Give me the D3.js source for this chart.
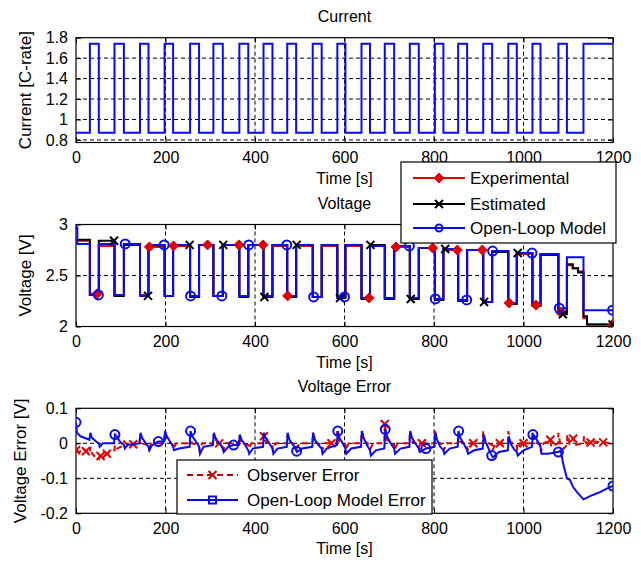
<!DOCTYPE html>
<html>
<head>
<meta charset="utf-8">
<script src="https://cdn.jsdelivr.net/npm/d3@7"></script>
<style>
  body { margin: 0; background: #fff; }
  svg text { font-family: "Liberation Sans", Arial, sans-serif; fill: #000; }
</style>
</head>
<body>
<div id="chart"></div>
<script>
// ---- data ----
const timeTicks = [0, 200, 400, 600, 800, 1000, 1200];
const currentTicks = [0.8, 1, 1.2, 1.4, 1.6, 1.8];
const voltageTicks = [2, 2.5, 3];
const errorTicks = [-0.2, -0.1, 0, 0.1];

// pulse edges [s] of the current profile and the C-rate held from each edge
const edgeT = [0, 31, 51, 86, 107, 143, 162, 198, 217, 255, 275, 307, 328, 365, 385, 419, 439, 472, 492,
  529, 549, 584, 602, 638, 657, 690, 711, 746, 766, 802, 821, 854, 874, 910, 930, 966, 985, 1020, 1038,
  1078, 1097, 1134, 1200];
const currentC = [0.87, 1.74, 0.87, 1.74, 0.87, 1.74, 0.87, 1.74, 0.87, 1.74, 0.87, 1.74, 0.87, 1.74, 0.87,
  1.74, 0.87, 1.74, 0.87, 1.74, 0.87, 1.74, 0.87, 1.74, 0.87, 1.74, 0.87, 1.74, 0.87, 1.74, 0.87, 1.74,
  0.87, 1.74, 0.87, 1.74, 0.87, 1.74, 0.87, 1.74, 0.87, 1.74, 1.74];

// voltage steps [s] and levels [V]
const voltT = [0, 3, 31, 51, 86, 107, 143, 162, 198, 217, 255, 275, 307, 328, 365, 385, 419, 439, 472, 492,
  529, 549, 584, 602, 638, 657, 690, 711, 746, 766, 802, 821, 854, 874, 910, 930, 966, 985, 1020, 1038,
  1078, 1097, 1110, 1122, 1134, 1142, 1200];
const experimentalV = [2.84, 2.84, 2.32, 2.79, 2.31, 2.80, 2.31, 2.78, 2.30, 2.79, 2.30, 2.80, 2.30, 2.80,
  2.30, 2.80, 2.30, 2.79, 2.30, 2.79, 2.29, 2.79, 2.29, 2.79, 2.28, 2.79, 2.28, 2.78, 2.28, 2.77, 2.27,
  2.75, 2.26, 2.75, 2.24, 2.74, 2.23, 2.71, 2.21, 2.71, 2.14, 2.60, 2.57, 2.54, 2.08, 2.02, 2.01];
const estimatedV = [2.85, 2.85, 2.31, 2.84, 2.30, 2.80, 2.30, 2.80, 2.30, 2.80, 2.29, 2.80, 2.30, 2.80,
  2.29, 2.80, 2.29, 2.80, 2.29, 2.80, 2.29, 2.80, 2.28, 2.80, 2.27, 2.80, 2.27, 2.79, 2.27, 2.77, 2.26,
  2.76, 2.25, 2.75, 2.24, 2.73, 2.22, 2.72, 2.20, 2.70, 2.12, 2.61, 2.57, 2.53, 2.10, 2.02, 2.01];
const modelV = [2.97, 2.81, 2.31, 2.81, 2.31, 2.81, 2.30, 2.80, 2.30, 2.80, 2.30, 2.80, 2.30, 2.80, 2.30,
  2.80, 2.30, 2.80, 2.30, 2.80, 2.29, 2.80, 2.29, 2.80, 2.28, 2.79, 2.28, 2.79, 2.28, 2.77, 2.27, 2.76,
  2.26, 2.75, 2.24, 2.74, 2.23, 2.72, 2.21, 2.71, 2.18, 2.68, 2.68, 2.68, 2.16, 2.16, 2.15];

// times [s] where the voltage markers sit
const experimentalMarks = [47, 164, 218, 294, 364, 418, 473, 655, 715, 797, 852, 908, 968, 1028, 1083, 1199];
const estimatedMarks = [85, 161, 254, 329, 421, 493, 590, 658, 748, 825, 912, 987, 1088, 1199];
const modelMarks = [50, 110, 197, 256, 326, 386, 471, 531, 600, 745, 803, 873, 931, 1019, 1080, 1199];

// voltage errors [s, V]
const observerError = [
  [0, -0.02], [8, -0.025], [16, -0.015], [24, -0.025], [31, -0.03], [32, -0.01], [36, -0.03], [44, -0.04],
  [51, -0.045], [53, -0.035], [60, -0.04], [69, -0.03], [78, -0.025], [86, -0.02], [87, -0.005], [92, -0.015],
  [100, -0.01], [107, -0.005], [108, 0.005], [115, -0.005], [142, 0], [143, 0.015], [147, 0], [162, -0.005],
  [163, -0.015], [168, 0], [197, 0], [198, 0.03], [202, 0.01], [217, -0.005], [218, -0.015], [224, 0],
  [254, 0], [255, 0.02], [259, 0], [275, -0.005], [276, -0.02], [282, 0], [306, 0], [307, 0.025], [311, 0.005],
  [328, -0.005], [329, -0.02], [335, 0], [364, 0], [365, 0.02], [369, 0], [385, -0.005], [386, -0.015],
  [392, 0], [418, 0], [419, 0.025], [423, 0.005], [439, -0.005], [440, -0.02], [446, 0], [471, 0],
  [472, 0.025], [476, 0.005], [492, -0.005], [493, -0.015], [499, 0], [528, 0], [529, 0.03], [533, 0.005],
  [549, -0.005], [550, -0.02], [556, 0], [583, 0], [584, 0.035], [588, 0.005], [602, -0.005], [603, -0.02],
  [609, 0], [637, 0], [638, 0.035], [642, 0.01], [657, -0.005], [658, -0.015], [664, 0], [689, 0],
  [690, 0.055], [694, 0.01], [711, -0.005], [712, -0.02], [718, 0], [745, 0], [746, 0.035], [750, 0.005],
  [766, -0.005], [767, -0.02], [773, 0], [801, 0], [802, 0.04], [806, 0.005], [821, -0.005], [822, -0.02],
  [828, 0], [853, 0], [854, 0.03], [858, 0.005], [874, -0.005], [875, -0.02], [881, 0], [909, 0],
  [910, 0.035], [914, 0.005], [930, -0.005], [931, -0.02], [937, 0], [965, 0], [966, 0.035], [970, 0.005],
  [985, -0.005], [986, -0.02], [992, 0], [1019, 0], [1020, 0.035], [1024, 0.005], [1038, -0.005],
  [1039, -0.025], [1045, 0], [1060, 0.01], [1062, -0.01], [1077, 0], [1078, 0.03], [1082, 0],
  [1090, -0.015], [1097, -0.005], [1098, 0.025], [1103, 0], [1112, 0.015], [1114, -0.005], [1134, 0],
  [1135, 0.02], [1140, 0], [1160, 0.005], [1200, 0]
];
const openLoopError = [
  [0, 0.06], [2, 0.03], [10, 0.02], [20, 0.015], [30, 0.01], [32, 0.03], [36, 0.015], [45, 0.005], [51, 0],
  [53, -0.01], [60, 0], [85, 0], [87, 0.025], [91, 0.02], [98, 0.005], [107, -0.005], [109, -0.015],
  [115, -0.005], [142, 0], [144, 0.03], [148, 0.015], [156, 0], [162, -0.01], [164, -0.02], [170, -0.005],
  [184, 0.005], [197, 0.005], [199, 0.035], [203, 0.02], [210, 0.005], [217, -0.01], [219, -0.02],
  [230, -0.015], [254, -0.01], [256, 0.035], [260, 0.02], [268, 0.005], [275, -0.01], [277, -0.03],
  [285, -0.01], [306, -0.005], [308, 0.03], [312, 0.015], [320, 0], [328, -0.015], [330, -0.025],
  [340, -0.01], [352, -0.005], [364, -0.005], [366, 0.025], [370, 0.01], [378, -0.005], [385, -0.02],
  [387, -0.03], [395, -0.015], [418, -0.01], [420, 0.03], [424, 0.015], [432, 0], [439, -0.015],
  [441, -0.03], [450, -0.015], [471, -0.01], [473, 0.03], [477, 0.01], [485, -0.005], [492, -0.02],
  [494, -0.025], [505, -0.015], [528, -0.01], [530, 0.03], [534, 0.01], [542, -0.005], [549, -0.015],
  [551, -0.03], [560, -0.015], [583, -0.005], [585, 0.035], [589, 0.015], [596, 0], [602, -0.015],
  [604, -0.03], [615, -0.015], [637, -0.01], [639, 0.035], [643, 0.015], [650, -0.005], [657, -0.02],
  [659, -0.035], [670, -0.02], [689, -0.015], [691, 0.04], [695, 0.02], [703, 0], [711, -0.015],
  [713, -0.03], [725, -0.015], [745, -0.01], [747, 0.035], [751, 0.015], [758, 0], [766, -0.015],
  [768, -0.025], [782, -0.015], [801, -0.01], [803, 0.03], [807, 0.01], [814, -0.01], [821, -0.02],
  [823, -0.03], [835, -0.015], [853, -0.01], [855, 0.035], [859, 0.015], [866, 0], [874, -0.02],
  [876, -0.03], [890, -0.02], [909, -0.015], [911, 0.025], [915, 0.005], [922, -0.015], [929, -0.035],
  [932, -0.04], [945, -0.025], [965, -0.02], [967, 0.02], [971, 0], [978, -0.015], [985, -0.025],
  [987, -0.035], [1000, -0.02], [1019, -0.01], [1021, 0.025], [1025, 0.02], [1032, 0.005], [1038, -0.01],
  [1040, -0.03], [1055, -0.03], [1076, -0.025], [1078, -0.025], [1083, -0.02], [1089, -0.06],
  [1097, -0.1], [1104, -0.105], [1111, -0.125], [1120, -0.14], [1134, -0.16], [1150, -0.15],
  [1170, -0.14], [1185, -0.13], [1200, -0.122]
];
const observerMarks = [0, 22, 55, 69, 128, 320, 420, 571, 690, 773, 888, 947, 1000, 1060, 1111, 1150, 1178];
const openLoopMarks = [0, 87, 184, 256, 352, 493, 585, 691, 782, 855, 929, 1021, 1078, 1200];

// ---- drawing ----
const RED = '#e00000';
const BLUE = '#0a0aee';
const svg = d3.select('#chart').append('svg').attr('width', 641).attr('height', 562);

const diamond = 'M0,-5L5,0L0,5L-5,0Z';
const cross = 'M-4,-4L4,4M-4,4L4,-4';

// Draws a MATLAB-style boxed axes with dashed grid; returns the scales and a clipped layer.
function panel(id, top, bottom, yDomain, yTicks, title, ylabel, ylabelX) {
  const x = d3.scaleLinear().domain([0, 1200]).range([76, 613]);
  const y = d3.scaleLinear().domain(yDomain).range([bottom, top]);
  const g = svg.append('g');

  g.append('clipPath').attr('id', id).append('rect')
    .attr('x', 76).attr('y', top).attr('width', 537).attr('height', bottom - top);

  const grid = g.append('g').attr('stroke', '#000').attr('stroke-width', 1).attr('stroke-dasharray', '4,3');
  grid.selectAll('.vx').data(timeTicks.slice(1, -1)).join('line')
    .attr('x1', x).attr('x2', x).attr('y1', top).attr('y2', bottom);
  grid.selectAll('.hy').data(yTicks.filter(d => y(d) > top + 1 && y(d) < bottom - 1)).join('line')
    .attr('x1', 76).attr('x2', 613).attr('y1', y).attr('y2', y);

  const fmt = d => String(d);
  g.append('g').attr('transform', `translate(0,${bottom})`)
    .call(d3.axisBottom(x).tickValues(timeTicks).tickSize(-5).tickPadding(9).tickFormat(fmt))
    .call(a => a.select('.domain').remove())
    .call(a => a.selectAll('text').attr('font-size', 16).attr('font-family', null));
  g.append('g').attr('transform', `translate(0,${top})`)
    .call(d3.axisTop(x).tickValues(timeTicks).tickSize(-5).tickFormat(''))
    .call(a => a.select('.domain').remove());
  g.append('g').attr('transform', 'translate(76,0)')
    .call(d3.axisLeft(y).tickValues(yTicks).tickSize(-5).tickPadding(8).tickFormat(fmt))
    .call(a => a.select('.domain').remove())
    .call(a => a.selectAll('text').attr('font-size', 16).attr('font-family', null));
  g.append('g').attr('transform', 'translate(613,0)')
    .call(d3.axisRight(y).tickValues(yTicks).tickSize(-5).tickFormat(''))
    .call(a => a.select('.domain').remove());

  g.append('rect').attr('x', 76).attr('y', top).attr('width', 537).attr('height', bottom - top)
    .attr('fill', 'none').attr('stroke', '#000').attr('stroke-width', 1.2);

  g.append('text').attr('x', 344.5).attr('y', top - 16).attr('text-anchor', 'middle')
    .attr('font-size', 16).text(title);
  g.append('text').attr('x', 344.5).attr('y', bottom + 41).attr('text-anchor', 'middle')
    .attr('font-size', 16).text('Time [s]');
  g.append('text').attr('transform', `translate(${ylabelX},${(top + bottom) / 2}) rotate(-90)`)
    .attr('text-anchor', 'middle').attr('font-size', 17).text(ylabel);

  const layer = g.append('g').attr('clip-path', `url(#${id})`);
  return { x, y, layer };
}

const stepAt = (ts, vs, t) => vs[Math.max(0, d3.bisectRight(ts, t) - 1)];
const linAt = (pts, t) => {
  const i = d3.bisector(d => d[0]).left(pts, t);
  if (i <= 0) return pts[0][1];
  if (i >= pts.length) return pts[pts.length - 1][1];
  const [t0, v0] = pts[i - 1], [t1, v1] = pts[i];
  return v0 + (v1 - v0) * (t - t0) / (t1 - t0);
};

// --- Current ---
const p1 = panel('clipCurrent', 37.7, 142.5, [0.775, 1.8], currentTicks, 'Current', 'Current [C-rate]', 31);
p1.layer.append('path')
  .datum(edgeT.map((t, i) => [t, currentC[i]]))
  .attr('fill', 'none').attr('stroke', BLUE).attr('stroke-width', 2)
  .attr('d', d3.line().x(d => p1.x(d[0])).y(d => p1.y(d[1])).curve(d3.curveStepAfter));

// --- Voltage ---
const p2 = panel('clipVoltage', 224.5, 326.5, [2, 3], voltageTicks, 'Voltage', 'Voltage [V]', 31);
const voltLine = d3.line().x(d => p2.x(d[0])).y(d => p2.y(d[1])).curve(d3.curveStepAfter);
const voltSeries = [
  { vals: experimentalV, color: RED, marks: experimentalMarks, shape: 'diamond' },
  { vals: estimatedV, color: '#000', marks: estimatedMarks, shape: 'cross' },
  { vals: modelV, color: BLUE, marks: modelMarks, shape: 'circle' }
];
voltSeries.forEach(s => {
  p2.layer.append('path').datum(voltT.map((t, i) => [t, s.vals[i]]))
    .attr('fill', 'none').attr('stroke', s.color).attr('stroke-width', 2).attr('d', voltLine);
});
voltSeries.forEach(s => {
  const m = p2.layer.append('g').selectAll('g').data(s.marks).join('g')
    .attr('transform', t => `translate(${p2.x(t)},${p2.y(stepAt(voltT, s.vals, t))})`);
  if (s.shape === 'diamond') m.append('path').attr('d', diamond).attr('fill', s.color).attr('stroke', s.color);
  if (s.shape === 'cross') m.append('path').attr('d', cross).attr('fill', 'none').attr('stroke', s.color).attr('stroke-width', 2);
  if (s.shape === 'circle') m.append('circle').attr('r', 4.5).attr('fill', 'none').attr('stroke', s.color).attr('stroke-width', 2);
});

// --- Voltage Error ---
const p3 = panel('clipError', 408.3, 513.3, [-0.2, 0.1], errorTicks, 'Voltage Error', 'Voltage Error [V]', 26);
const errLine = d3.line().x(d => p3.x(d[0])).y(d => p3.y(d[1]));
p3.layer.append('path').datum(observerError)
  .attr('fill', 'none').attr('stroke', RED).attr('stroke-width', 2).attr('stroke-dasharray', '6,4').attr('d', errLine);
p3.layer.append('g').selectAll('path').data(observerMarks).join('path')
  .attr('transform', t => `translate(${p3.x(t)},${p3.y(linAt(observerError, t))})`)
  .attr('d', cross).attr('fill', 'none').attr('stroke', RED).attr('stroke-width', 2);
p3.layer.append('path').datum(openLoopError)
  .attr('fill', 'none').attr('stroke', BLUE).attr('stroke-width', 2).attr('d', errLine);
p3.layer.append('g').selectAll('circle').data(openLoopMarks).join('circle')
  .attr('cx', t => p3.x(t)).attr('cy', t => p3.y(linAt(openLoopError, t)))
  .attr('r', 4.5).attr('fill', 'none').attr('stroke', BLUE).attr('stroke-width', 2);

// --- legends ---
function legend(x0, y0, w, h, rows, lineX1, lineX2, textX) {
  const g = svg.append('g');
  g.append('rect').attr('x', x0).attr('y', y0).attr('width', w).attr('height', h)
    .attr('fill', '#fff').attr('stroke', '#000').attr('stroke-width', 1.2);
  rows.forEach(r => {
    const mx = (lineX1 + lineX2) / 2;
    g.append('line').attr('x1', lineX1).attr('x2', lineX2).attr('y1', r.y).attr('y2', r.y)
      .attr('stroke', r.color).attr('stroke-width', 2).attr('stroke-dasharray', r.dash || null);
    const m = g.append('g').attr('transform', `translate(${mx},${r.y})`);
    if (r.shape === 'diamond') m.append('path').attr('d', diamond).attr('fill', r.color).attr('stroke', r.color);
    if (r.shape === 'cross') m.append('path').attr('d', cross).attr('fill', 'none').attr('stroke', r.color).attr('stroke-width', 2);
    if (r.shape === 'circle') m.append('circle').attr('r', 3.5).attr('fill', 'none').attr('stroke', r.color).attr('stroke-width', 2);
    if (r.shape === 'square') m.append('rect').attr('x', -3.5).attr('y', -3.5).attr('width', 7).attr('height', 7)
      .attr('fill', 'none').attr('stroke', r.color).attr('stroke-width', 2);
    g.append('text').attr('x', textX).attr('y', r.y + 6).attr('font-size', 17).text(r.label);
  });
}
legend(401, 162, 215, 81, [
  { y: 178, color: RED, shape: 'diamond', label: 'Experimental' },
  { y: 204, color: '#000', shape: 'cross', label: 'Estimated' },
  { y: 228, color: BLUE, shape: 'circle', label: 'Open-Loop Model' }
], 413, 465, 470);
legend(177, 460, 255, 54, [
  { y: 475, color: '#c00000', shape: 'cross', dash: '6,4', label: 'Observer Error' },
  { y: 500, color: BLUE, shape: 'square', label: 'Open-Loop Model Error' }
], 187, 238, 247);
</script>
</body>
</html>
